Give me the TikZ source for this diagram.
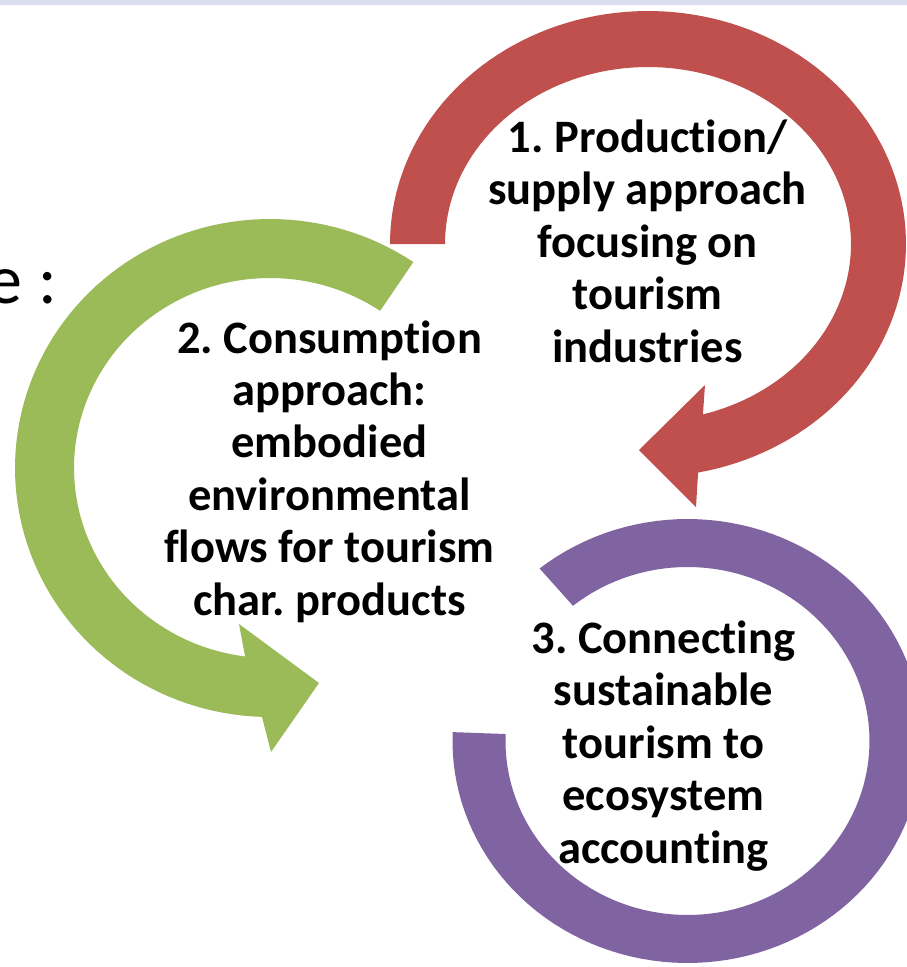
\documentclass[tikz,border=0pt]{standalone}
\usepackage{fontspec}
\setmainfont{Carlito}[Ligatures=NoCommon]
\frenchspacing
\definecolor{redc}{HTML}{C0504D}
\definecolor{greenc}{HTML}{9BBB59}
\definecolor{purplec}{HTML}{8064A2}
\definecolor{barc}{HTML}{DADDF0}
\tikzset{
  lbl/.style={align=center, font=\fontsize{46.5}{52.4}\selectfont\bfseries, inner sep=0pt, text=black},
}
\begin{document}
\begin{tikzpicture}[x=1pt,y=-1pt]
\useasboundingbox (0,0) rectangle (907,967);
\clip (0,0) rectangle (907,967);
\fill[white] (0,0) rectangle (907,967);
\fill[barc] (0,0) rectangle (907,5);
% purple band
\fill[purplec] plot[domain=129:-182.3, samples=120] ({687.5+235*cos(\x)},{741-222*sin(\x)})
  -- plot[domain=-182.3:129, samples=120] ({687.5+182*cos(\x)},{741-174*sin(\x)}) -- cycle;
% green arrow
\fill[greenc] plot[domain=55.8:268.2, samples=100] ({270+255*cos(\x)},{468-249*sin(\x)})
  -- (271,752) -- (319,683) -- (239,624)
  -- plot[domain=262.7:55.8, samples=100] ({270+196*cos(\x)},{468-190*sin(\x)}) -- cycle;
% red arrow
\fill[redc] plot[domain=180:-78.8, samples=120] ({648+258*cos(\x)},{244-233*sin(\x)})
  -- (696,507) -- (639,450) -- (705,385)
  -- plot[domain=-74.3:180, samples=120] ({648+203*cos(\x)},{244-177*sin(\x)}) -- cycle;
\node[anchor=base east, font=\fontsize{70}{84}\selectfont, inner sep=0pt] (cut) at (57,303) {e :};
\node[lbl, anchor=base] (t1) at (647.5,362) {1. Production/\\supply approach\\focusing on\\tourism\\industries};
\node[lbl, anchor=base] (t2) at (329.5,615) {2. Consumption\\approach:\\embodied\\environmental\\flows for tourism\\char. products};
\node[lbl, anchor=base] (t3) at (663.5,863) {3. Connecting\\sustainable\\tourism to\\ecosystem\\accounting};
\end{tikzpicture}
\end{document}
